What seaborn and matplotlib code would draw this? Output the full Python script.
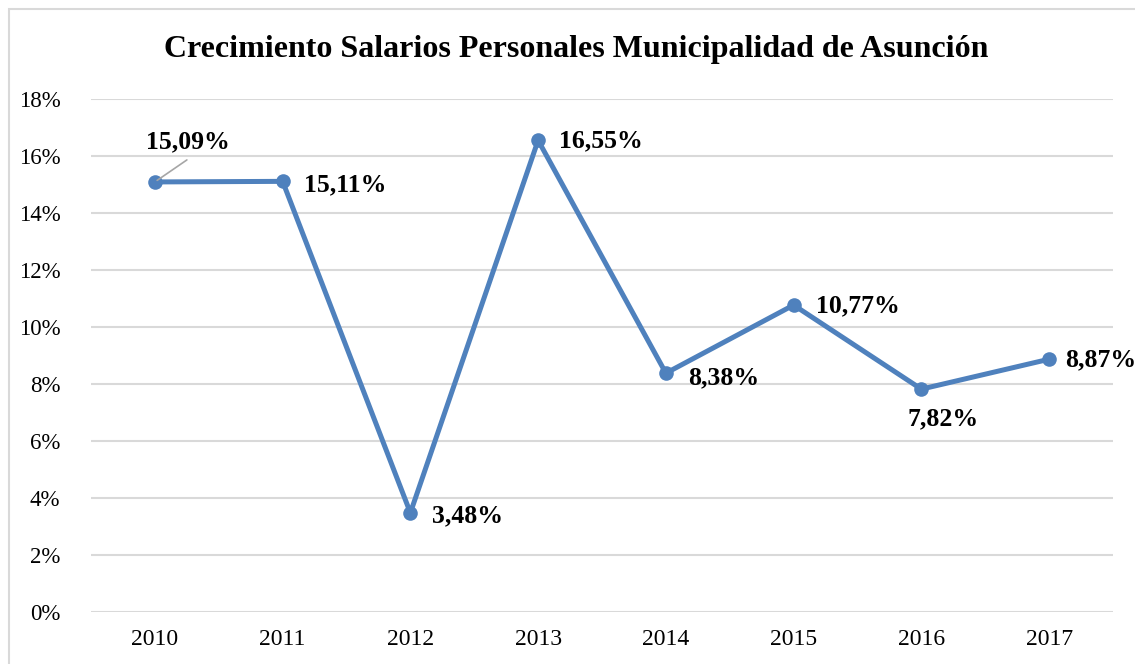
import matplotlib
matplotlib.use('Agg')
import matplotlib.pyplot as plt
import matplotlib.patches as mpatches
from matplotlib.ticker import PercentFormatter
import seaborn as sns
import pandas as pd

# data
years = ['2010', '2011', '2012', '2013', '2014', '2015', '2016', '2017']
growth = [15.09, 15.11, 3.48, 16.55, 8.38, 10.77, 7.82, 8.87]
labels = ['15,09%', '15,11%', '3,48%', '16,55%', '8,38%', '10,77%', '7,82%', '8,87%']

df = pd.DataFrame({'year': years, 'growth': growth})
df['pos'] = range(len(years))

sns.set_style('white')
plt.rcParams['font.family'] = ['Liberation Serif', 'DejaVu Serif']
plt.rcParams['text.color'] = 'black'

fig = plt.figure(figsize=(11.35, 6.64), dpi=100)
W, H = 1135, 664
ax = fig.add_axes([91 / W, (H - 612) / H, (1113 - 91) / W, (612 - 99) / H])

# chart border (cut off on right / bottom)
fig.patches.append(mpatches.Rectangle((9 / W, -0.1), 1.2, (H - 9) / H + 0.1,
                                      transform=fig.transFigure, fill=False,
                                      edgecolor='#D9D9D9', linewidth=1.5))

line_color = '#4F81BD'
sns.lineplot(data=df, x='pos', y='growth', ax=ax, color=line_color, linewidth=3.6,
             marker='o', markersize=10.5, markeredgewidth=0, zorder=3)

ax.set_xlim(-0.5, 7.5)
ax.set_ylim(0, 18)
ax.set_yticks(range(0, 19, 2))
ax.yaxis.set_major_formatter(PercentFormatter(decimals=0))
ax.set_xticks(df['pos'])
ax.set_xticklabels(years)
ax.tick_params(axis='y', length=0, labelsize=16.5, colors='black', pad=22)
ax.tick_params(axis='x', length=0, labelsize=17, colors='black', pad=12)
ax.set_xlabel('')
ax.set_ylabel('')
ax.grid(axis='y', color='#D9D9D9', linewidth=1.5)
ax.set_axisbelow(True)
for s in ax.spines.values():
    s.set_visible(False)

# data labels: (dx, dy, ha, va) in pixels
offsets = [(33, 40, 'center', 'center'), (21, -3, 'left', 'center'),
           (22, -3, 'left', 'center'), (21, 0, 'left', 'center'),
           (22, -5, 'left', 'center'), (22, -1, 'left', 'center'),
           (22, -30, 'center', 'center'), (16, -1, 'left', 'center')]
for i, (lab, (dx, dy, ha, va)) in enumerate(zip(labels, offsets)):
    ax.annotate(lab, (df['pos'][i], df['growth'][i]), xytext=(dx, dy),
                textcoords='offset pixels', ha=ha, va=va, fontsize=18.5,
                fontweight='bold', color='black', zorder=4)

# leader line for the first label
ax.annotate('', (df['pos'][0], df['growth'][0]), xytext=(32, 22),
            textcoords='offset pixels',
            arrowprops=dict(arrowstyle='-', color='#A6A6A6', lw=1.2,
                            shrinkA=0, shrinkB=2))

fig.text(576 / W, 1 - 50 / H, 'Crecimiento Salarios Personales Municipalidad de Asunción',
         ha='center', va='center', fontsize=23, fontweight='bold', color='black')

fig.savefig('out.png', dpi=100)
